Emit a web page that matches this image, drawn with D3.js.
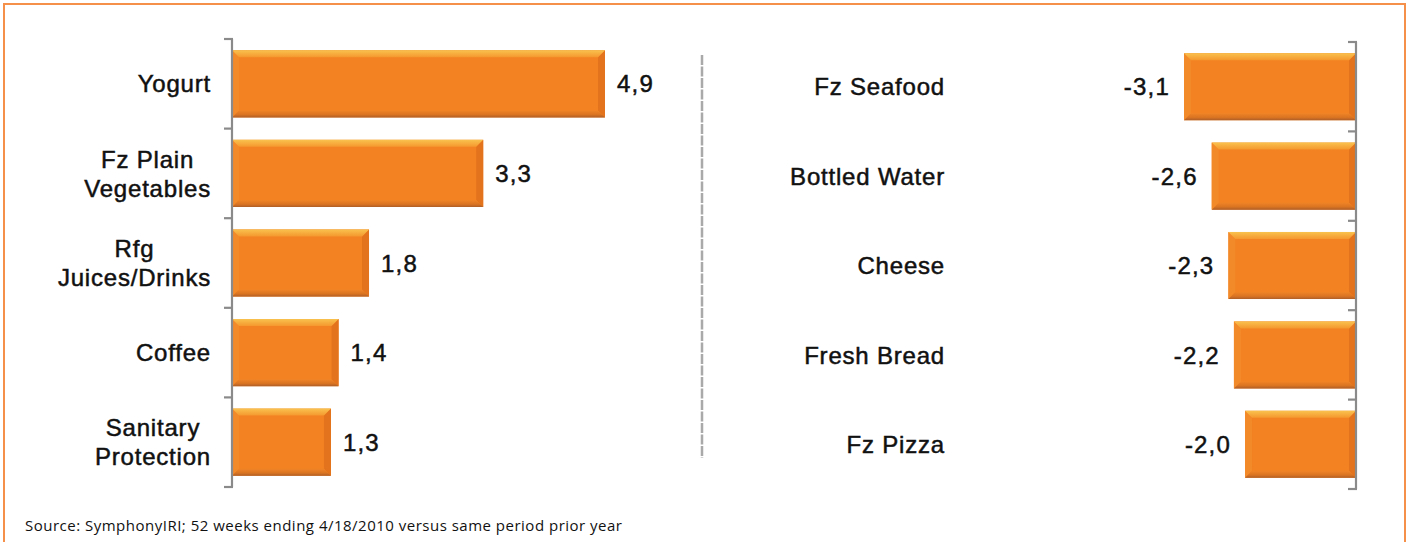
<!DOCTYPE html>
<html><head><meta charset="utf-8">
<script src="https://cdn.jsdelivr.net/npm/d3@7"></script>
<style>body{margin:0;background:#fff}svg{display:block}</style>
</head><body><svg id="c" width="1410" height="542"></svg>
<script>
const leftCats = [["Yogurt"],["Fz Plain","Vegetables"],["Rfg","Juices/Drinks"],["Coffee"],["Sanitary","Protection"]];
const leftVals = [4.9, 3.3, 1.8, 1.4, 1.3];
const rightCats = [["Fz Seafood"],["Bottled Water"],["Cheese"],["Fresh Bread"],["Fz Pizza"]];
const rightVals = [-3.1, -2.6, -2.3, -2.2, -2.0];
const fmt = v => d3.format(".1f")(v).replace("\u2212","-").replace(".", ",");
const sourceText = "Source:  SymphonyIRI; 52 weeks ending 4/18/2010 versus same period prior year";

const svg = d3.select("#c");
const FONT = "'Liberation Sans', Arial, sans-serif";

svg.append("rect").attr("x",4).attr("y",4).attr("width",1401).attr("height",560)
  .attr("fill","none").attr("stroke","#F4904A").attr("stroke-width",2);

const defs = svg.append("defs");
const gTop = defs.append("linearGradient").attr("id","gTop").attr("x1",0).attr("y1",0).attr("x2",0).attr("y2",1);
gTop.append("stop").attr("offset","0%").attr("stop-color","#F9C24E");
gTop.append("stop").attr("offset","100%").attr("stop-color","#F5982E");
const gBot = defs.append("linearGradient").attr("id","gBot").attr("x1",0).attr("y1",0).attr("x2",0).attr("y2",1);
gBot.append("stop").attr("offset","0%").attr("stop-color","#F08426");
gBot.append("stop").attr("offset","60%").attr("stop-color","#DA7422");
gBot.append("stop").attr("offset","100%").attr("stop-color","#AE5E28");

function bevelBar(g, x0, x1, y0, y1) {
  const b = 7;
  g.append("rect").attr("x",x0).attr("y",y0).attr("width",x1-x0).attr("height",y1-y0).attr("fill","#F28222");
  const poly = (pts, fill) => g.append("polygon").attr("points", pts.map(p=>p.join(",")).join(" ")).attr("fill", fill);
  poly([[x0,y0],[x0+b,y0+b],[x0+b,y1-b],[x0,y1]], "#F38A2A");
  poly([[x1,y0],[x1-b,y0+b],[x1-b,y1-b],[x1,y1]], "#E3731C");
  poly([[x0,y0],[x1,y0],[x1-b,y0+b],[x0+b,y0+b]], "url(#gTop)");
  poly([[x0,y1],[x1,y1],[x1-b,y1-b],[x0+b,y1-b]], "url(#gBot)");
}

function styleText(t) {
  return t.attr("font-family", FONT).attr("font-size", 24).attr("fill","#111")
    .attr("stroke","#111").attr("stroke-width",0.5).attr("letter-spacing",0.8);
}

function drawPanel(cats, vals, opt) {
  const g = svg.append("g");
  const y = d3.scaleBand().domain(d3.range(cats.length)).range(opt.yRange).paddingInner(0.25).paddingOuter(0.125);
  const x = d3.scaleLinear().domain(opt.xDomain).range(opt.xRange);
  const step = y.step();
  const y0 = opt.yRange[0];
  const ax = x(0);
  vals.forEach((v,i) => {
    const a = Math.min(x(0), x(v)), b = Math.max(x(0), x(v));
    bevelBar(g, a, b, y(i), y(i)+y.bandwidth());
    const cy = y(i) + y.bandwidth()/2;
    styleText(g.append("text")).attr("x", v >= 0 ? b + 12 : a - 14).attr("y", cy).attr("dy","0.36em")
      .attr("text-anchor", v >= 0 ? "start" : "end").attr("letter-spacing",1.2).text(fmt(v));
  });
  g.append("line").attr("x1",ax).attr("x2",ax).attr("y1",opt.yRange[0]).attr("y2",opt.yRange[1])
    .attr("stroke","#8a8a8a").attr("stroke-width",2.2);
  d3.range(cats.length+1).forEach(k => {
    const ty = y0 + k*step;
    g.append("line").attr("x1",ax-8).attr("x2",ax+1).attr("y1",ty).attr("y2",ty)
      .attr("stroke","#8a8a8a").attr("stroke-width",2.2);
  });
  cats.forEach((lines,i) => {
    const cy = y(i) + y.bandwidth()/2;
    const t = styleText(g.append("text")).attr("text-anchor","middle");
    const lh = 29;
    lines.forEach((ln,j) => {
      t.append("tspan").attr("x",0).attr("y", cy + (j - (lines.length-1)/2)*lh).attr("dy","0.36em").text(ln);
    });
    const w = t.node().getBBox().width;
    t.selectAll("tspan").attr("x", opt.labelRight - w/2);
  });
}

drawPanel(leftCats, leftVals, {yRange:[39,487], xDomain:[0,4.9], xRange:[232,605], labelRight:211});
drawPanel(rightCats, rightVals, {yRange:[42,489], xDomain:[-3.1,0], xRange:[1184,1356], labelRight:945});

svg.append("line").attr("x1",702).attr("x2",702).attr("y1",55).attr("y2",458)
  .attr("stroke","#a9a9a9").attr("stroke-width",2.5).attr("stroke-dasharray","10,1.5");

svg.append("text").attr("x",25).attr("y",531).attr("font-family","'Open Sans', sans-serif")
  .attr("font-size",15).attr("fill","#111").attr("textLength",597).attr("lengthAdjust","spacing").text(sourceText);
</script></body></html>
